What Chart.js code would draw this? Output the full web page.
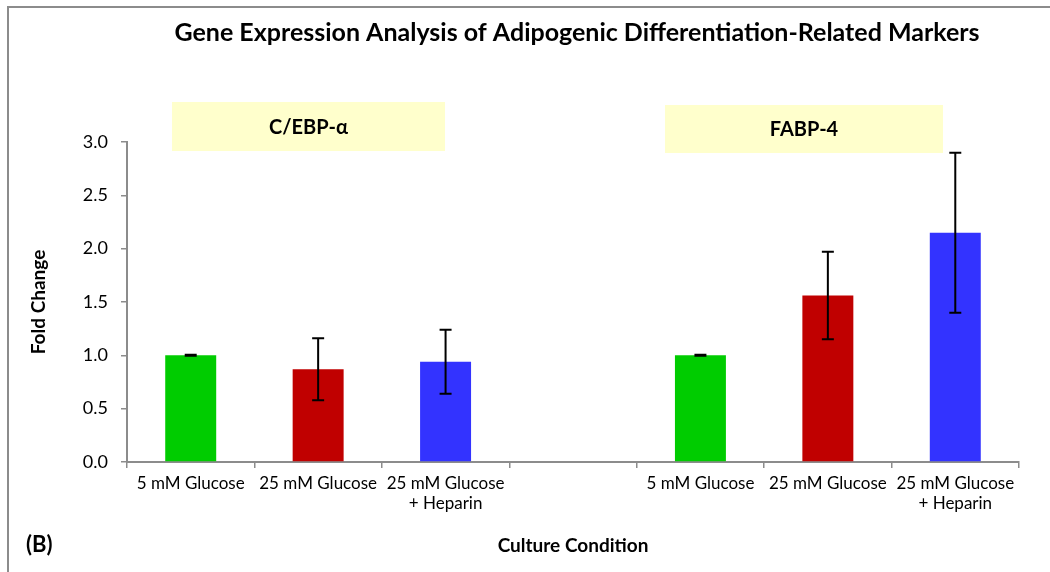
<!DOCTYPE html>
<html>
<head>
<meta charset="utf-8">
<script src="https://cdn.jsdelivr.net/npm/chart.js@4/dist/chart.umd.min.js"></script>
<style>
  html, body { margin: 0; padding: 0; background: #fff; }
  #wrap { width: 1050px; height: 572px; }
</style>
</head>
<body>
<div id="wrap"><canvas id="myCanvasGenes" width="1050" height="572"></canvas></div>
<script>
// data
var conditions = [
    '5 mM Glucose', '25 mM Glucose', ['25 mM Glucose', '+ Heparin'],
    '',
    '5 mM Glucose', '25 mM Glucose', ['25 mM Glucose', '+ Heparin']
];
var foldChange = [1.0, 0.87, 0.94, null, 1.0, 1.56, 2.15];
var foldError  = [0.005, 0.29, 0.30, null, 0.005, 0.41, 0.75];
var barColors  = ['#00CC00', '#C00000', '#3333FF', '#ffffff', '#00CC00', '#C00000', '#3333FF'];
var markers    = ['C/EBP-α', 'FABP-4'];
var yTicks     = [0, 0.5, 1.0, 1.5, 2.0, 2.5, 3.0];

var fonte = 'Lato, Carlito, Calibri, sans-serif';

// frame, title, marker boxes and panel letter
var decoracao = {
    id: 'decoracao',
    beforeDraw: function(chart) {
        var ctx = chart.ctx;
        ctx.save();
        ctx.fillStyle = '#fff';
        ctx.fillRect(0, 0, chart.width, chart.height);
        ctx.strokeStyle = '#8c8c8c';
        ctx.lineWidth = 2;
        ctx.beginPath();
        ctx.moveTo(8, chart.height);
        ctx.lineTo(8, 7);
        ctx.lineTo(chart.width, 7);
        ctx.stroke();

        // marker label boxes
        var caixas = [[172, 102, 273, 49], [665, 105, 278, 48]];
        ctx.font = 'bold 20px ' + fonte;
        ctx.textAlign = 'center';
        ctx.textBaseline = 'middle';
        for (var i = 0; i < markers.length; i++) {
            var c = caixas[i];
            ctx.fillStyle = '#FFFFCC';
            ctx.fillRect(c[0], c[1], c[2], c[3]);
            ctx.fillStyle = '#000';
            ctx.fillText(markers[i], c[0] + c[2] / 2, c[1] + c[3] / 2 + 1);
        }
        ctx.restore();
    },
    afterDraw: function(chart) {
        var ctx = chart.ctx;
        ctx.save();
        ctx.fillStyle = '#000';
        ctx.textBaseline = 'middle';
        ctx.textAlign = 'center';
        ctx.font = 'bold 25px ' + fonte;
        ctx.fillText('Gene Expression Analysis of Adipogenic Differentiation-Related Markers', 577, 33);
        ctx.textAlign = 'left';
        ctx.font = 'bold 22px ' + fonte;
        ctx.fillText('(B)', 26, 545);
        ctx.restore();
    }
};

// error bars drawn through the scales
var barrasErro = {
    id: 'barrasErro',
    afterDatasetsDraw: function(chart) {
        var ctx = chart.ctx;
        var meta = chart.getDatasetMeta(0);
        var y = chart.scales.y;
        ctx.save();
        ctx.strokeStyle = '#000';
        ctx.lineWidth = 2;
        for (var i = 0; i < foldChange.length; i++) {
            if (foldChange[i] === null) continue;
            var x = meta.data[i].x;
            var topo = y.getPixelForValue(foldChange[i] + foldError[i]);
            var base = y.getPixelForValue(foldChange[i] - foldError[i]);
            ctx.beginPath();
            ctx.moveTo(x, topo); ctx.lineTo(x, base);
            ctx.moveTo(x - 6, topo); ctx.lineTo(x + 6, topo);
            ctx.moveTo(x - 6, base); ctx.lineTo(x + 6, base);
            ctx.stroke();
        }
        ctx.restore();
    }
};

var grafico = new Chart(document.getElementById('myCanvasGenes'), {
    type: 'bar',
    data: {
        labels: conditions,
        datasets: [{
            label: 'Fold Change',
            data: foldChange,
            backgroundColor: barColors,
            borderWidth: 0,
            barPercentage: 0.4,
            categoryPercentage: 1.0
        }]
    },
    options: {
        responsive: false,
        animation: false,
        layout: { padding: { top: 142, right: 31, left: 0, bottom: 0 } },
        plugins: {
            legend: { display: false },
            title: { display: false },
            tooltip: { enabled: false }
        },
        scales: {
            x: {
                grid: { offset: true, drawOnChartArea: false, drawTicks: true, tickLength: 6, color: '#8c8c8c', lineWidth: 1.5 },
                border: { color: '#8c8c8c', width: 2 },
                ticks: { color: '#000', font: { family: fonte, size: 17 }, padding: 5, maxRotation: 0, autoSkip: false },
                title: { display: true, text: 'Culture Condition', color: '#000', font: { family: fonte, size: 19, weight: 'bold' }, padding: { top: 0, bottom: 15 } },
                afterFit: function(scale) { scale.height = 110; }
            },
            y: {
                min: 0,
                max: 3,
                afterBuildTicks: function(scale) {
                    scale.ticks = yTicks.map(function(v) { return { value: v }; });
                },
                grid: { drawOnChartArea: false, drawTicks: true, tickLength: 6, color: '#8c8c8c', lineWidth: 1.5 },
                border: { color: '#8c8c8c', width: 2 },
                ticks: {
                    color: '#000',
                    font: { family: fonte, size: 18 },
                    padding: 13,
                    callback: function(v) { return Number(v).toFixed(1); }
                },
                title: { display: true, text: 'Fold Change', color: '#000', font: { family: fonte, size: 19, weight: 'bold' }, padding: { top: 27, bottom: 0 } },
                afterFit: function(scale) { scale.width = 127; }
            }
        }
    },
    plugins: [decoracao, barrasErro]
});
</script>
</body>
</html>
